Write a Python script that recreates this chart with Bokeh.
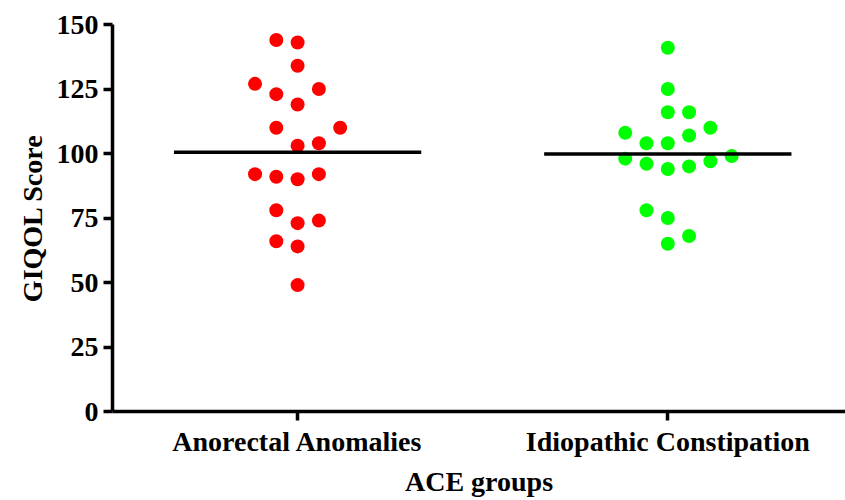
import numpy as np
from bokeh.plotting import figure
from bokeh.models import Range1d, FixedTicker, ColumnDataSource
from bokeh.embed import file_html
from bokeh.resources import INLINE

groups = ["Anorectal Anomalies", "Idiopathic Constipation"]
colors = ["#FF0000", "#00FF00"]

# GIQOL scores
anorectal = [144, 143, 134, 127, 123, 125, 119, 110, 110, 103, 104,
             92, 91, 90, 92, 78, 73, 74, 66, 64, 49]
anorectal_slot = [-1, 0, 0, -2, -1, 1, 0, -1, 2, 0, 1,
                  -2, -1, 0, 1, -1, 0, 1, -1, 0, 0]
idiopathic = [141, 125, 116, 116, 108, 110, 107, 104, 104, 98, 96,
              94, 95, 97, 99, 78, 75, 68, 65]
idiopathic_slot = [0, 0, 0, 1, -2, 2, 1, -1, 0, -2, -1,
                   0, 1, 2, 3, -1, 0, 1, 0]

y_ticks = [0, 25, 50, 75, 100, 125, 150]

FONT = "Liberation Serif"
slot_w = 0.0575
half_line = 0.334

p = figure(width=845, height=500, output_backend="svg", toolbar_location=None,
           x_range=Range1d(-0.5, 1.48), y_range=Range1d(0, 150),
           min_border_left=112, min_border_right=0, min_border_top=24,
           min_border_bottom=89)
p.outline_line_color = None
p.grid.visible = False
p.background_fill_color = "white"
p.border_fill_color = "white"

for i, (vals, slots, col) in enumerate([(anorectal, anorectal_slot, colors[0]),
                                         (idiopathic, idiopathic_slot, colors[1])]):
    xs = [i + s * slot_w for s in slots]
    src = ColumnDataSource(dict(x=xs, y=vals))
    p.scatter("x", "y", source=src, size=14, fill_color=col, line_color=None)
    m = float(np.mean(vals))
    p.segment(x0=[i - half_line], y0=[m], x1=[i + half_line], y1=[m],
              line_color="black", line_width=3.5)

xa = p.xaxis[0]
xa.ticker = FixedTicker(ticks=[0, 1])
xa.major_label_overrides = {0: groups[0], 1: groups[1]}
xa.axis_label = "ACE groups"
ya = p.yaxis[0]
ya.ticker = FixedTicker(ticks=y_ticks)
ya.axis_label = "GIQOL Score"

for ax in (xa, ya):
    ax.axis_line_width = 3.5
    ax.axis_line_color = "black"
    ax.major_tick_line_width = 3.5
    ax.major_tick_line_color = "black"
    ax.major_tick_out = 9
    ax.major_tick_in = 0
    ax.minor_tick_line_color = None
    ax.major_label_text_font = FONT
    ax.major_label_text_font_style = "bold"
    ax.major_label_text_font_size = "28px"
    ax.major_label_text_color = "black"
    ax.axis_label_text_font = FONT
    ax.axis_label_text_font_style = "bold"
    ax.axis_label_text_font_size = "28px"
    ax.axis_label_text_color = "black"
    ax.major_label_standoff = 5
    ax.axis_label_standoff = 6

open("out.html", "w").write(file_html(p, INLINE))
